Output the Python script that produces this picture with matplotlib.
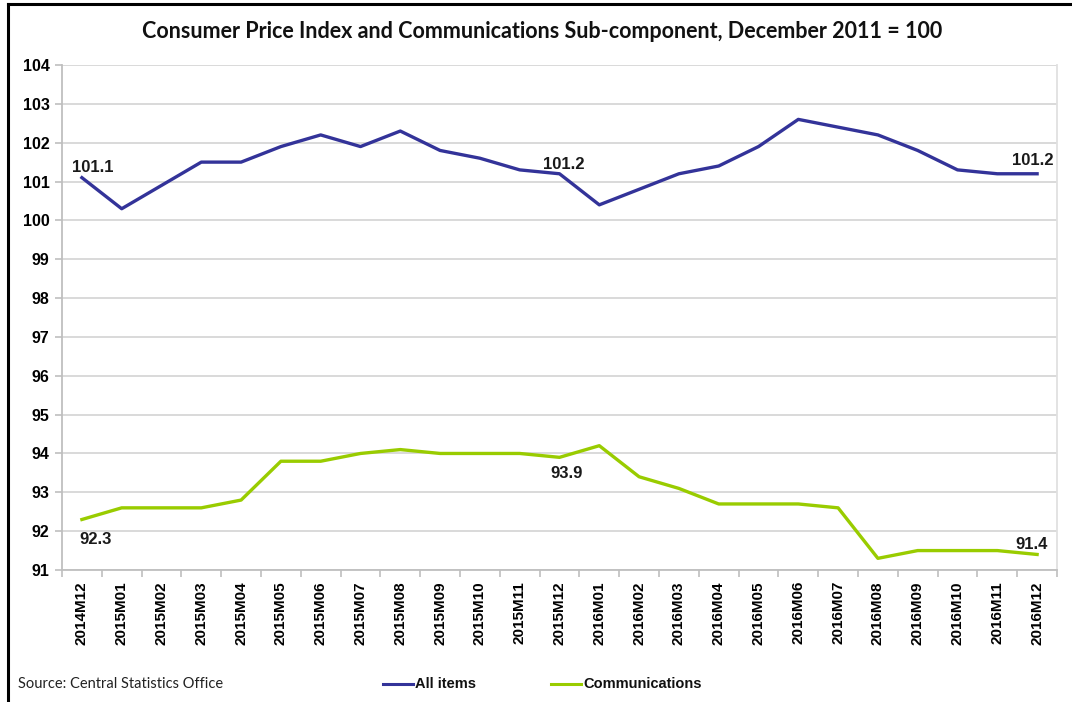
import matplotlib
matplotlib.use("Agg")
import matplotlib.pyplot as plt
from matplotlib.lines import Line2D

months = ["2014M12", "2015M01", "2015M02", "2015M03", "2015M04", "2015M05", "2015M06",
          "2015M07", "2015M08", "2015M09", "2015M10", "2015M11", "2015M12",
          "2016M01", "2016M02", "2016M03", "2016M04", "2016M05", "2016M06",
          "2016M07", "2016M08", "2016M09", "2016M10", "2016M11", "2016M12"]
all_items = [101.1, 100.3, 100.9, 101.5, 101.5, 101.9, 102.2, 101.9, 102.3, 101.8, 101.6,
             101.3, 101.2, 100.4, 100.8, 101.2, 101.4, 101.9, 102.6, 102.4, 102.2, 101.8,
             101.3, 101.2, 101.2]
communications = [92.3, 92.6, 92.6, 92.6, 92.8, 93.8, 93.8, 94.0, 94.1, 94.0, 94.0, 94.0,
                  93.9, 94.2, 93.4, 93.1, 92.7, 92.7, 92.7, 92.6, 91.3, 91.5, 91.5, 91.5, 91.4]
y_ticks = [91, 92, 93, 94, 95, 96, 97, 98, 99, 100, 101, 102, 103, 104]

title = "Consumer Price Index and Communications Sub-component, December 2011 = 100"
source = "Source: Central Statistics Office"

BLUE = "#333399"
GREEN = "#99cc00"
GRID = "#d9d9d9"
AX = "#bfbfbf"

fig = plt.figure(figsize=(10.72, 7.02), dpi=100)
ax = fig.add_axes([62/1072, 1-570/702, (1057-62)/1072, (570-65)/702])

x = list(range(len(months)))
ax.plot(x, all_items, color=BLUE, lw=2.4, solid_joinstyle="round")
ax.plot(x, communications, color=GREEN, lw=2.4, solid_joinstyle="round")

ax.set_xlim(-0.5, len(months) - 0.5)
ax.set_ylim(91, 104)
ax.set_yticks(y_ticks)
ax.set_yticklabels([str(v) for v in y_ticks], fontfamily="Liberation Sans",
                   fontweight="bold", fontsize=11.5)
ax.set_xticks(x)
ax.set_xticklabels(months, rotation=90, fontfamily="Liberation Sans",
                   fontweight="bold", fontsize=11)
ax.tick_params(axis="x", length=0, pad=8)
ax.tick_params(axis="y", length=5, color=AX, width=1.2, pad=4)
# minor ticks at category boundaries on x axis
ax.set_xticks([i - 0.5 for i in range(len(months) + 1)], minor=True)
ax.tick_params(axis="x", which="minor", length=5, color=AX, width=1.2)

ax.grid(axis="y", color=GRID, lw=1.4)
ax.set_axisbelow(True)
for side in ["left", "bottom", "right"]:
    ax.spines[side].set_color(AX)
    ax.spines[side].set_linewidth(1.3)
ax.spines["right"].set_color("#e0e0e0")
ax.spines["top"].set_visible(False)

lab = dict(fontfamily="Liberation Sans", fontweight="bold", fontsize=12, color="#1a1a1a")
ax.annotate(f"{all_items[0]:.1f}", (0, all_items[0]), xytext=(8, 2), textcoords="offset points", ha="center", va="bottom", **lab)
ax.annotate(f"{all_items[12]:.1f}", (12, all_items[12]), xytext=(3, 1), textcoords="offset points", ha="center", va="bottom", **lab)
ax.annotate(f"{all_items[24]:.1f}", (24, all_items[24]), xytext=(-3, 4), textcoords="offset points", ha="center", va="bottom", **lab)
ax.annotate(f"{communications[0]:.1f}", (0, communications[0]), xytext=(10, -9), textcoords="offset points", ha="center", va="top", **lab)
ax.annotate(f"{communications[12]:.1f}", (12, communications[12]), xytext=(5, -6), textcoords="offset points", ha="center", va="top", **lab)
ax.annotate(f"{communications[24]:.1f}", (24, communications[24]), xytext=(-4, 2), textcoords="offset points", ha="center", va="bottom", **lab)

fig.text(542/1072, 1-32/702, title, ha="center", va="center", fontfamily="Lato",
         fontweight="bold", fontsize=15.5, color="#111111")
fig.text(18/1072, 1-684/702, source, ha="left", va="center", fontfamily="Lato",
         fontsize=10.5, color="#222222")

# legend drawn manually in figure coords
fig.add_artist(Line2D([383/1072, 413/1072], [1-684/702]*2, color=BLUE, lw=2.2))
fig.text(415/1072, 1-684/702, "All items", ha="left", va="center",
         fontfamily="Liberation Sans", fontweight="bold", fontsize=10.5, color="#111111")
fig.add_artist(Line2D([551/1072, 581/1072], [1-684/702]*2, color=GREEN, lw=2.2))
fig.text(583/1072, 1-684/702, "Communications", ha="left", va="center",
         fontfamily="Liberation Sans", fontweight="bold", fontsize=10.5, color="#111111")

# outer frame (left and top edges)
fig.add_artist(Line2D([7.5/1072, 7.5/1072], [0, 1-4/702], color="black", lw=2.2))
fig.add_artist(Line2D([7.5/1072, 1], [1-4/702, 1-4/702], color="black", lw=2.2))

fig.savefig("out.png", dpi=100)
